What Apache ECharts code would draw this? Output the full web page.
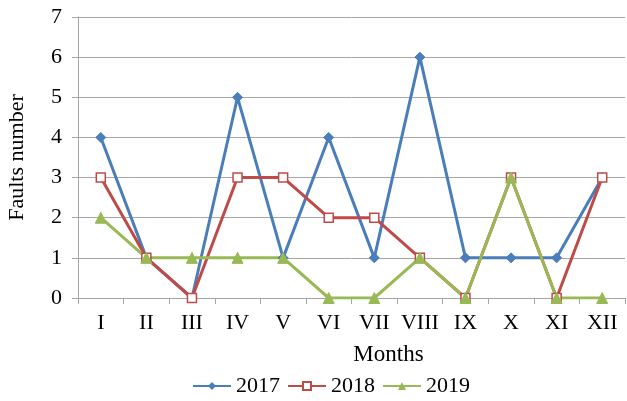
<!DOCTYPE html>
<html>
<head>
<meta charset="utf-8">
<script src="https://cdn.jsdelivr.net/npm/echarts@6/dist/echarts.min.js"></script>
<style>
  html, body { margin: 0; padding: 0; background: #fff; }
  #chart { width: 627px; height: 401px; }
</style>
</head>
<body>
<div id="chart"></div>
<script>
const months = ['I', 'II', 'III', 'IV', 'V', 'VI', 'VII', 'VIII', 'IX', 'X', 'XI', 'XII'];
const faults2017 = [4, 1, 0, 5, 1, 4, 1, 6, 1, 1, 1, 3];
const faults2018 = [3, 1, 0, 3, 3, 2, 2, 1, 0, 3, 0, 3];
const faults2019 = [2, 1, 1, 1, 1, 0, 0, 1, 0, 3, 0, 0];

const font = 'Liberation Serif';

function makeSeries(name, data, color, symbol, size, hollow) {
  return {
    name: name,
    type: 'line',
    data: data,
    symbol: symbol,
    symbolSize: size,
    showAllSymbol: true,
    lineStyle: { color: color, width: 3 },
    itemStyle: hollow
      ? { color: '#fff', borderColor: color, borderWidth: 1.5 }
      : { color: color, borderColor: color },
    emphasis: { disabled: true }
  };
}

const chart = echarts.init(document.getElementById('chart'));
chart.setOption({
  animation: false,
  textStyle: { fontFamily: font },
  grid: { left: 78, right: 2, top: 17, bottom: 103, outerBoundsMode: 'none', containLabel: false },
  legend: {
    top: 370,
    left: 187,
    itemWidth: 38,
    itemHeight: 10,
    itemGap: 7,
    textStyle: { fontFamily: font, fontSize: 22, color: '#000' },
    data: ['2017', '2018', '2019']
  },
  xAxis: {
    type: 'category',
    data: months,
    name: 'Months',
    nameLocation: 'middle',
    nameGap: 45,
    nameTextStyle: { fontFamily: font, fontSize: 23, color: '#000', padding: [0, 0, 0, 74] },
    axisLine: { lineStyle: { color: '#a6a6a6', width: 1 } },
    axisTick: { show: true, length: 6, alignWithLabel: false, interval: 0, lineStyle: { color: '#a6a6a6' } },
    axisLabel: { fontFamily: font, fontSize: 22, color: '#000', margin: 14, interval: 0 }
  },
  yAxis: {
    type: 'value',
    min: 0,
    max: 7,
    interval: 1,
    name: 'Faults number',
    nameLocation: 'middle',
    nameGap: 50,
    nameRotate: 90,
    nameTextStyle: { fontFamily: font, fontSize: 22, color: '#000' },
    axisLine: { show: true, lineStyle: { color: '#a6a6a6', width: 1 } },
    axisTick: { show: true, length: 6, lineStyle: { color: '#a6a6a6' } },
    axisLabel: { fontFamily: font, fontSize: 22, color: '#000', margin: 16 },
    splitLine: { lineStyle: { color: '#a6a6a6', width: 1 } }
  },
  series: [
    makeSeries('2017', faults2017, '#4a7ebb', 'diamond', 10, false),
    makeSeries('2018', faults2018, '#be4b48', 'rect', 9, true),
    makeSeries('2019', faults2019, '#98b954', 'triangle', 11, false)
  ]
});
</script>
</body>
</html>
